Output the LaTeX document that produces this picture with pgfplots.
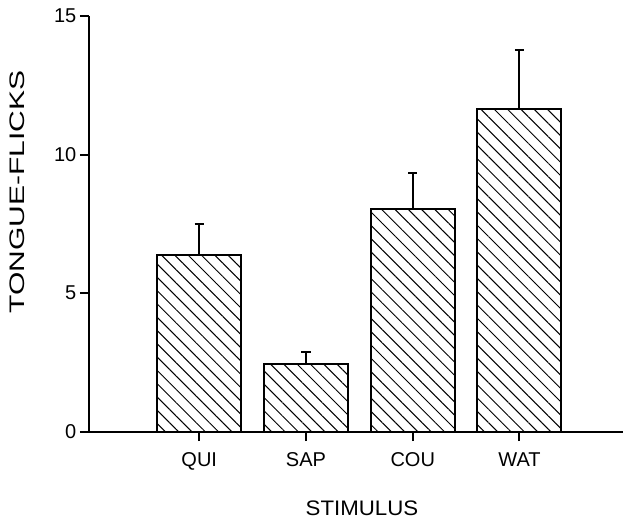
\documentclass[border=0pt]{standalone}
\usepackage{fontspec}
\setmainfont{Liberation Sans}
\usepackage{pgfplots}
\pgfplotsset{compat=1.18}
\usepackage{pgfplotstable}
\usetikzlibrary{patterns.meta}
\pgfplotstableread{
x y err
0 6.37 1.13
1 2.46 0.41
2 8.02 1.33
3 11.64 2.14
}\datatable
\begin{document}
\begin{tikzpicture}
\useasboundingbox (-89.3pt,-87.3pt) rectangle (533.7pt,431.7pt);
\begin{axis}[
  at={(0,0)}, anchor=south west,
  scale only axis, width=533.7pt, height=415.6pt,
  xmin=-1.03, xmax=3.97, ymin=0, ymax=15,
  enlargelimits=false, clip=false,
  axis x line=bottom, axis y line=left,
  axis line style={-, line width=2pt},
  tick style={line width=2pt, black},
  tick align=outside, major tick length=9.5pt,
  xtick={0,1,2,3}, xticklabels={QUI,SAP,COU,WAT},
  ytick={0,5,10,15},
  /pgf/number format/assume math mode=true,
  ticklabel style={font=\fontsize{20}{24}\selectfont},
  xticklabel style={yshift=-8pt},
  xlabel={\scalebox{1.06}[1]{STIMULUS}},
  ylabel={\scalebox{1.43}[1]{TONGUE-FLICKS}},
  label style={font=\fontsize{21}{25}\selectfont},
  xlabel style={at={(axis description cs:0.511,0)}, anchor=base, yshift=-83.5pt},
  ylabel style={at={(axis description cs:-0.1205,0.577)}, anchor=base},
  ybar, bar width=84pt,
]
\addplot[draw=black, line width=2pt,
  pattern={Lines[angle=-45,distance=9.4pt,line width=1pt]},
  error bars/.cd, y dir=plus, y explicit,
  error bar style={line width=2pt, black},
  error mark options={line width=2pt, mark size=4.7pt, black, rotate=90}]
  table[x=x, y=y, y error=err] {\datatable};
\draw[line width=2pt] (axis cs:-1.03,0) -- ++(-9.3pt,0);
\draw[line width=2pt] (axis cs:3.9,0) -- ++(20pt,0);
\end{axis}
\end{tikzpicture}
\end{document}
